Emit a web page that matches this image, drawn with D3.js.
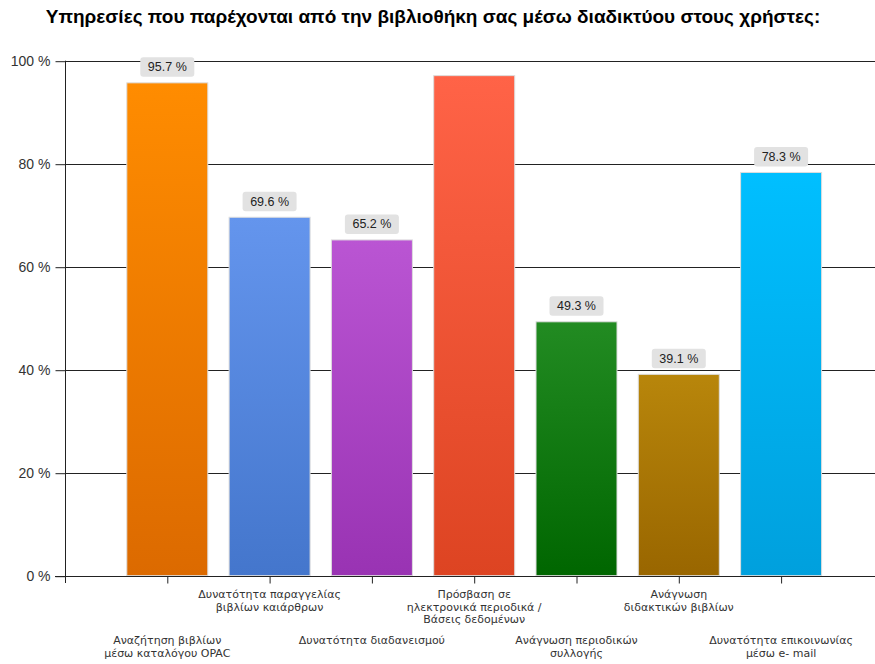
<!DOCTYPE html>
<html>
<head>
<meta charset="utf-8">
<script src="https://cdn.jsdelivr.net/npm/d3@7"></script>
<style>
  html, body { margin: 0; padding: 0; background: #fff; }
  svg { display: block; }
</style>
</head>
<body>
<svg id="chart" width="875" height="664"></svg>
<script>
// Survey results: share of libraries offering each online service
const categories = [
  ["Αναζήτηση βιβλίων", "μέσω καταλόγου OPAC"],
  ["Δυνατότητα παραγγελίας", "βιβλίων καιάρθρων"],
  ["Δυνατότητα διαδανεισμού"],
  ["Πρόσβαση σε", "ηλεκτρονικά περιοδικά /", "Βάσεις δεδομένων"],
  ["Ανάγνωση περιοδικών", "συλλογής"],
  ["Ανάγνωση", "διδακτικών βιβλίων"],
  ["Δυνατότητα επικοινωνίας", "μέσω e- mail"]
];
const values = [95.7, 69.6, 65.2, 97.1, 49.3, 39.1, 78.3];
const showLabel = [true, true, true, false, true, true, true];
const topColors = ["#FF8C00", "#6495ED", "#BA55D3", "#FF6347", "#228B22", "#B8860B", "#00BFFF"];
const bottomColors = ["#DC6A00", "#4476CC", "#9933B3", "#DD4422", "#006600", "#996600", "#00A0DD"];
const yTicks = [0, 20, 40, 60, 80, 100];
const title = "Υπηρεσίες που παρέχονται από την βιβλιοθήκη σας μέσω διαδικτύου στους χρήστες:";

const svg = d3.select("#chart");

const x = d3.scaleLinear().domain([0, 8]).range([65, 883.4]);
const y = d3.scaleLinear().domain([0, 100]).range([575.7, 60.7]);
const barW = 81;

// vertical gradients for the bars
const defs = svg.append("defs");
values.forEach((v, i) => {
  const g = defs.append("linearGradient")
    .attr("id", "grad" + i)
    .attr("x1", 0).attr("y1", 0).attr("x2", 0).attr("y2", 1);
  g.append("stop").attr("offset", "0%").attr("stop-color", topColors[i]);
  g.append("stop").attr("offset", "100%").attr("stop-color", bottomColors[i]);
});

// title
svg.append("text")
  .attr("x", 433).attr("y", 23)
  .attr("text-anchor", "middle")
  .attr("font-family", "Liberation Sans, Arial, sans-serif")
  .attr("font-weight", "bold")
  .attr("font-size", 19)
  .attr("fill", "#000")
  .text(title);

// horizontal grid lines
svg.append("g")
  .selectAll("line")
  .data(yTicks)
  .join("line")
  .attr("x1", 65).attr("x2", 875)
  .attr("y1", d => Math.round(y(d)) + 0.5)
  .attr("y2", d => Math.round(y(d)) + 0.5)
  .attr("stroke", "#222")
  .attr("stroke-width", 1);

// y axis
const yAxis = svg.append("g")
  .attr("transform", "translate(65.5,0.5)")
  .call(d3.axisLeft(y).tickValues(yTicks).tickSize(10).tickPadding(5).tickFormat(d => d + " %"));
yAxis.select(".domain").remove();
yAxis.selectAll(".tick line").attr("stroke", "#222");
yAxis.selectAll(".tick text")
  .attr("font-family", "Liberation Sans, Arial, sans-serif")
  .attr("font-size", 14)
  .attr("fill", "#333");
svg.append("line")
  .attr("x1", 65.5).attr("x2", 65.5)
  .attr("y1", y(100)).attr("y2", 583)
  .attr("stroke", "#222");

// bars
svg.append("g")
  .selectAll("rect")
  .data(values)
  .join("rect")
  .attr("x", (d, i) => x(i + 1) - barW / 2)
  .attr("y", d => y(d))
  .attr("width", barW)
  .attr("height", d => y(0) - y(d))
  .attr("fill", (d, i) => "url(#grad" + i + ")")
  .attr("stroke", "#dddddd")
  .attr("stroke-width", 1);

// x axis
const xAxis = svg.append("g")
  .attr("transform", "translate(0," + (Math.round(y(0)) + 0.5) + ")")
  .call(d3.axisBottom(x).tickValues(d3.range(1, 8)).tickSize(7).tickFormat(""));
xAxis.select(".domain").remove();
xAxis.selectAll(".tick line").attr("stroke", "#222");
svg.append("line")
  .attr("x1", 55).attr("x2", 875)
  .attr("y1", Math.round(y(0)) + 0.5).attr("y2", Math.round(y(0)) + 0.5)
  .attr("stroke", "#222");

// category labels, alternating rows
const catG = svg.append("g")
  .attr("font-family", "DejaVu Sans, Verdana, sans-serif")
  .attr("font-size", 11)
  .attr("fill", "#333")
  .attr("text-anchor", "middle");
categories.forEach((lines, i) => {
  const top = i % 2 === 1 ? 598 : 644;
  const t = catG.append("text")
    .attr("x", x(i + 1))
    .attr("y", top);
  lines.forEach((ln, k) => {
    t.append("tspan")
      .attr("x", x(i + 1))
      .attr("dy", k === 0 ? 0 : 12.6)
      .text(ln);
  });
});

// value labels
const lab = svg.append("g")
  .selectAll("g")
  .data(values.map((v, i) => ({ v, i })).filter(d => showLabel[d.i]))
  .join("g")
  .attr("transform", d => "translate(" + x(d.i + 1) + "," + (y(d.v) - 6) + ")");
lab.append("rect")
  .attr("x", -27).attr("y", -19.5)
  .attr("width", 54).attr("height", 19.5)
  .attr("rx", 3)
  .attr("fill", "#e2e2e2");
lab.append("text")
  .attr("x", 0).attr("y", -5.5)
  .attr("text-anchor", "middle")
  .attr("font-family", "Liberation Sans, Arial, sans-serif")
  .attr("font-size", 12.5)
  .attr("fill", "#222")
  .text(d => d.v.toFixed(1) + " %");
</script>
</body>
</html>
